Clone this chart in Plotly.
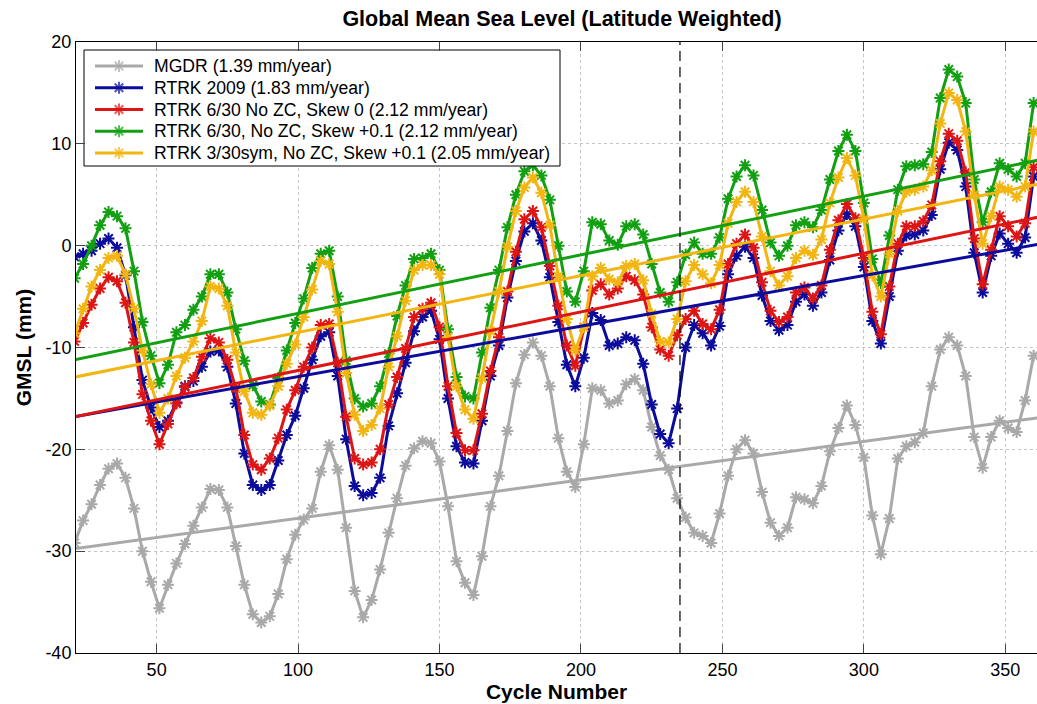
import plotly.graph_objects as go

# Cycle numbers (one sample every 3 cycles)
cycles = list(range(21, 361, 3))

# GMSL per cycle (mm)
mgdr = [
    -29.2, -27.0, -25.4, -23.5, -21.9, -21.4, -22.8, -25.8, -30.0, -33.0,
    -35.6, -33.3, -31.2, -29.3, -27.5, -25.7, -23.9, -24.0, -25.7, -29.5,
    -33.3, -36.2, -37.0, -36.4, -34.2, -30.8, -28.4, -26.9, -25.8, -22.2,
    -19.6, -22.0, -27.7, -33.9, -36.5, -34.8, -31.8, -28.2, -24.8, -21.6,
    -19.9, -19.2, -19.4, -21.2, -25.6, -31.0, -33.1, -34.3, -30.5, -25.6,
    -22.6, -18.2, -13.5, -10.7, -9.5, -10.8, -13.8, -18.9, -22.2, -23.7,
    -19.5, -14.0, -14.2, -15.5, -15.2, -13.6, -13.1, -14.2, -17.8, -20.6,
    -22.0, -24.8, -26.7, -28.2, -28.5, -29.2, -26.3, -22.6, -20.0, -19.1,
    -20.4, -24.2, -27.2, -28.5, -27.7, -24.7, -24.9, -25.3, -23.6, -20.2,
    -17.9, -15.7, -17.6, -20.8, -26.5, -30.3, -26.8, -20.9, -19.7, -19.3,
    -18.4, -13.8, -10.2, -9.0, -9.8, -12.8, -18.8, -21.8, -18.8, -17.2,
    -17.9, -18.3, -15.2, -10.8,
]
rtrk_2009 = [
    -1.1, -0.8, -0.5, 0.2, 0.7, -0.2, -2.9, -8.0, -13.2, -15.9,
    -17.8, -17.2, -15.4, -13.8, -13.3, -11.9, -10.4, -10.3, -11.9, -15.5,
    -20.4, -23.5, -24.0, -23.5, -21.1, -18.6, -16.7, -14.0, -11.2, -8.9,
    -8.5, -12.8, -19.0, -23.6, -24.5, -24.3, -22.8, -17.7, -14.5, -11.5,
    -8.4, -7.0, -6.4, -9.2, -15.0, -19.7, -21.3, -21.4, -17.2, -12.8,
    -9.8, -5.1, -1.5, 1.4, 2.2, 0.5, -3.1, -7.5, -11.7, -13.8,
    -11.0, -6.6, -7.3, -9.8, -9.6, -9.0, -9.3, -11.6, -15.6, -18.5,
    -19.4, -16.0, -10.0, -7.8, -8.6, -9.8, -7.9, -2.8, -1.0, -0.1,
    -1.2, -4.9, -7.4, -8.3, -7.8, -5.5, -4.8, -5.9, -4.6, -1.4,
    1.5, 3.1, 1.9, -2.1, -7.4, -9.6, -5.0, -0.5, 1.0, 1.1,
    1.5, 3.0, 7.5, 10.1, 9.4, 5.8, -0.7, -4.6, -1.0, 1.2,
    0.2, -0.7, 0.8, 6.8,
]
rtrk_630_skew0 = [
    -9.4, -7.6, -5.8, -4.2, -3.1, -3.5, -5.6, -9.5, -14.6, -17.2,
    -19.5, -17.5, -15.5, -13.9, -13.0, -10.9, -9.1, -9.5, -11.2, -14.0,
    -18.6, -21.5, -22.0, -20.9, -18.9, -16.1, -14.2, -11.9, -10.0, -7.8,
    -7.7, -11.5, -16.8, -20.9, -21.5, -21.3, -20.0, -15.6, -12.9, -10.1,
    -7.0, -6.2, -5.6, -8.0, -13.8, -18.4, -20.1, -20.1, -16.5, -12.3,
    -9.0, -4.5, -0.6, 2.6, 3.4, 1.8, -2.0, -5.9, -9.8, -11.8,
    -8.0, -4.4, -3.8, -4.8, -4.2, -3.0, -3.4, -4.8, -8.0, -10.2,
    -10.8, -8.8, -7.2, -6.4, -7.7, -8.2, -6.3, -1.8, 0.2, 1.1,
    -0.2, -3.6, -6.4, -7.5, -7.0, -4.6, -4.1, -5.2, -3.9, -0.4,
    2.5, 4.1, 2.7, -1.2, -6.5, -8.7, -4.0, 0.2, 1.9, 1.9,
    2.4, 4.0, 8.3, 11.0, 10.3, 7.2, 0.7, -3.8, -0.4, 2.9,
    1.9, 0.9, 2.2, 7.7,
]
rtrk_630_skew01 = [
    -3.2, -1.8, 0.0, 2.0, 3.3, 2.9, 1.7, -2.5, -7.5, -10.8,
    -13.5, -11.7, -8.5, -7.8, -6.3, -5.0, -2.8, -2.8, -4.6, -8.2,
    -11.3, -13.7, -15.3, -15.6, -13.0, -10.3, -7.6, -5.2, -2.2, -0.8,
    -0.5, -5.0, -11.3, -15.0, -15.8, -15.5, -13.8, -10.6, -6.9, -3.9,
    -1.3, -1.2, -0.8, -2.4, -8.2, -12.9, -14.8, -15.0, -10.5, -6.1,
    -2.4, 1.8, 5.0, 7.3, 7.9, 6.9, 4.5, 0.0, -4.5, -5.5,
    -2.5, 2.3, 2.1, 0.5, 0.1, 1.9, 2.1, 1.1, -1.8, -4.6,
    -5.5, -3.6, -0.9, 0.3, -0.8, -0.8, 0.8, 4.6, 6.8, 7.9,
    6.9, 3.5, 0.3, -1.0, 0.0, 2.0, 2.3, 1.8, 3.5, 6.5,
    9.3, 10.9, 9.3, 4.2, -1.3, -3.7, 1.0, 5.5, 7.8, 7.9,
    8.0, 9.2, 14.5, 17.3, 16.6, 14.0, 6.5, 2.3, 5.3, 8.1,
    7.5, 6.8, 8.1, 14.0,
]
rtrk_330sym_skew01 = [
    -8.6, -6.2, -4.0, -2.4, -1.2, -1.0, -2.8, -6.2, -10.3, -13.6,
    -16.4, -15.0, -12.8, -11.0, -9.4, -7.4, -4.0, -4.2, -5.9, -10.5,
    -14.3, -16.4, -16.6, -15.7, -13.8, -11.6, -9.7, -7.0, -4.3, -1.5,
    -1.8, -6.5, -12.5, -16.6, -18.2, -17.6, -16.0, -11.9, -8.9, -5.4,
    -2.4, -1.9, -1.9, -2.8, -9.0, -13.8, -16.1, -17.0, -13.0, -8.4,
    -4.5, -0.1, 3.4, 5.7, 6.7, 5.2, 2.0, -3.0, -7.2, -10.3,
    -8.0, -3.0, -2.2, -3.3, -3.6, -2.0, -1.8, -3.4, -6.7, -9.4,
    -9.5, -7.2, -3.5, -1.9, -2.8, -3.7, -1.9, 2.2, 4.3, 5.3,
    4.3, 0.9, -2.5, -3.9, -3.0, -1.2, -0.5, -0.9, 0.6, 4.2,
    6.7, 8.6, 6.9, 2.6, -2.9, -5.0, -0.8, 3.4, 5.3, 5.5,
    5.8, 7.4, 12.0, 15.0, 14.3, 11.2, 5.0, 0.2, 2.9, 5.8,
    5.5, 4.8, 5.8, 11.2,
]

series_names = [
    "MGDR (1.39 mm/year)",
    "RTRK 2009 (1.83 mm/year)",
    "RTRK 6/30 No ZC, Skew 0 (2.12 mm/year)",
    "RTRK 6/30, No ZC, Skew +0.1 (2.12 mm/year)",
    "RTRK 3/30sym, No ZC, Skew +0.1 (2.05 mm/year)",
]
series_values = [mgdr, rtrk_2009, rtrk_630_skew0, rtrk_630_skew01, rtrk_330sym_skew01]
series_colors = ["#a9a9a9", "#0c0c9c", "#dd1515", "#12a012", "#f2b511"]

# Linear trends: rate in mm/year and fitted level at cycle 200
trend_rates = [1.39, 1.83, 2.12, 2.12, 2.05]
trend_level_at_200 = [-23.0, -7.9, -6.5, -0.9, -2.95]
CYCLE_DAYS = 9.9156
TREND_REF_CYCLE = 200
trend_span = [21.0, 362.0]

# Vertical marker of the switch cycle
switch_cycle = 235

x_range = [21.5, 361.2]
y_range = [-40, 20]
x_ticks = [50, 100, 150, 200, 250, 300, 350]
y_ticks = [-40, -30, -20, -10, 0, 10, 20]
y_tick_text = ["-40", "-30", "-20", "-10", "0", "10", "20"]

FONT = "Liberation Sans, Arial, Helvetica, sans-serif"
W, H = 1037, 704
M_L, M_R, M_T, M_B = 76, 0, 42, 51

LINE_W = 3
MARKER = dict(symbol="asterisk-open", size=10)

fig = go.Figure()

for name, vals, col in zip(series_names, series_values, series_colors):
    fig.add_trace(go.Scatter(
        x=cycles, y=vals, name=name, mode="lines+markers",
        line=dict(color=col, width=LINE_W),
        marker=dict(**MARKER, line=dict(color=col, width=2)),
    ))

for rate, lvl, col in zip(trend_rates, trend_level_at_200, series_colors):
    per_cycle = rate * CYCLE_DAYS / 365.25
    ys = [lvl + per_cycle * (c - TREND_REF_CYCLE) for c in trend_span]
    fig.add_trace(go.Scatter(
        x=trend_span, y=ys, mode="lines",
        line=dict(color=col, width=LINE_W), hoverinfo="skip",
    ))

fig.add_vline(x=switch_cycle, line=dict(color="black", width=1.2, dash="10px,6px"))

# Legend box drawn on an overlay axis pair measured in screen pixels,
# so it sits above the data traces.
box_left, box_right, box_top, box_bottom = 84, 560, 50, 166
row_first, row_step = 66, 21.75
sample_x0, sample_x1, text_x = 95, 143, 152

lx = dict(xaxis="x2", yaxis="y2", hoverinfo="skip")
fig.add_trace(go.Scatter(
    x=[box_left, box_right, box_right, box_left, box_left],
    y=[box_top, box_top, box_bottom, box_bottom, box_top],
    mode="lines", fill="toself", fillcolor="white",
    line=dict(color="black", width=1), **lx,
))
for i, (name, col) in enumerate(zip(series_names, series_colors)):
    ry = row_first + i * row_step
    mid = (sample_x0 + sample_x1) / 2
    fig.add_trace(go.Scatter(
        x=[sample_x0, mid, sample_x1], y=[ry, ry, ry], mode="lines+markers",
        line=dict(color=col, width=LINE_W),
        marker=dict(**{**MARKER, "size": [0, 10, 0]}, line=dict(color=col, width=2)),
        **lx,
    ))
    fig.add_annotation(
        x=text_x, y=ry, xref="x2", yref="y2", text=name, showarrow=False,
        xanchor="left", yanchor="middle", font=dict(size=17.6),
    )

fig.update_layout(
    width=W, height=H,
    margin=dict(l=M_L, r=M_R, t=M_T, b=M_B),
    paper_bgcolor="white", plot_bgcolor="white",
    font=dict(family=FONT, size=18, color="black"),
    title=dict(text="<b>Global Mean Sea Level (Latitude Weighted)</b>",
               x=562 / W, xanchor="center", y=1 - 18 / H, yanchor="middle",
               font=dict(size=21.5)),
    showlegend=False,
    xaxis2=dict(overlaying="x", anchor="y2", range=[M_L, W - M_R], visible=False,
                fixedrange=True),
    yaxis2=dict(overlaying="y", anchor="x2", range=[H - M_B, M_T], visible=False,
                fixedrange=True),
)

fig.update_xaxes(
    selector=dict(overlaying=None),
    range=x_range, tickvals=x_ticks, ticks="inside", ticklen=9,
    showline=True, linecolor="black", linewidth=1, mirror="ticks",
    showgrid=True, gridcolor="#c4c4c4", griddash="dot", gridwidth=1,
    zeroline=False, tickfont=dict(size=18),
    title=dict(text="<b>Cycle Number</b>", font=dict(size=21), standoff=5),
)
fig.update_yaxes(
    selector=dict(overlaying=None),
    range=y_range, tickvals=y_ticks, ticktext=y_tick_text,
    ticks="inside", ticklen=9,
    showline=True, linecolor="black", linewidth=1, mirror=False,
    showgrid=True, gridcolor="#c4c4c4", griddash="dot", gridwidth=1,
    zeroline=False, tickfont=dict(size=18),
    title=dict(text="<b>GMSL (mm)</b>", font=dict(size=21), standoff=8),
)

fig.write_html("out.html")
